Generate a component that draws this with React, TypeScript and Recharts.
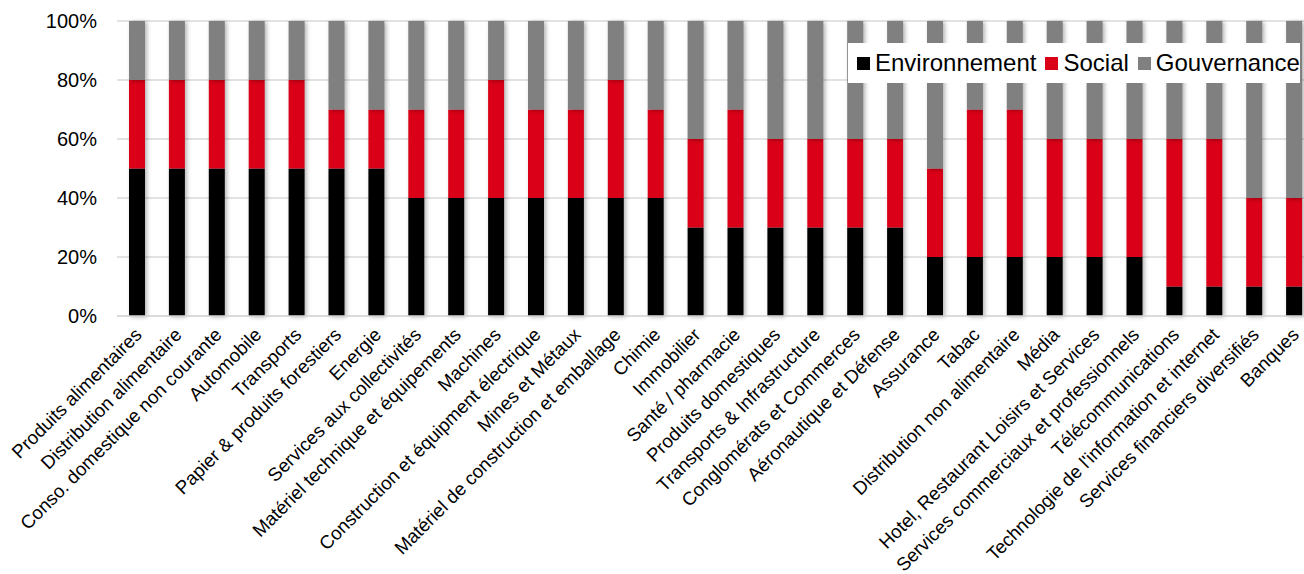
import { BarChart, Bar, XAxis, YAxis, CartesianGrid } from "recharts";

const sectors = [
  "Produits alimentaires",
  "Distribution alimentaire",
  "Conso. domestique non courante",
  "Automobile",
  "Transports",
  "Papier & produits forestiers",
  "Energie",
  "Services aux collectivités",
  "Matériel technique et équipements",
  "Machines",
  "Construction et équipment électrique",
  "Mines et Métaux",
  "Matériel de construction et emballage",
  "Chimie",
  "Immobilier",
  "Santé / pharmacie",
  "Produits domestiques",
  "Transports & Infrastructure",
  "Conglomérats et Commerces",
  "Aéronautique et Défense",
  "Assurance",
  "Tabac",
  "Distribution non alimentaire",
  "Média",
  "Hotel, Restaurant Loisirs et Services",
  "Services commerciaux et professionnels",
  "Télécommunications",
  "Technologie de l'information et internet",
  "Services financiers diversifiés",
  "Banques",
];

const environnement = [50, 50, 50, 50, 50, 50, 50, 40, 40, 40, 40, 40, 40, 40, 30, 30, 30, 30, 30, 30, 20, 20, 20, 20, 20, 20, 10, 10, 10, 10];
const social = [30, 30, 30, 30, 30, 20, 20, 30, 30, 40, 30, 30, 40, 30, 30, 40, 30, 30, 30, 30, 30, 50, 50, 40, 40, 40, 50, 50, 30, 30];
const gouvernance = [20, 20, 20, 20, 20, 30, 30, 30, 30, 20, 30, 30, 20, 30, 40, 30, 40, 40, 40, 40, 50, 30, 30, 40, 40, 40, 40, 40, 60, 60];

const yTicks = [0, 20, 40, 60, 80, 100];

const series = [
  { key: "env", name: "Environnement", color: "#000000" },
  { key: "soc", name: "Social", color: "#DA0018" },
  { key: "gov", name: "Gouvernance", color: "#808080" },
];

const data = sectors.map((name, i) => ({
  name,
  env: environnement[i],
  soc: social[i],
  gov: gouvernance[i],
}));

const FONT = "'Liberation Sans', Arial, sans-serif";

// rotated category labels, text ends just under the bar
const SectorTick = (props: any) => {
  const { x, y, payload } = props;
  const ax = x + 6;
  const ay = y + 12;
  return (
    <text
      x={ax}
      y={ay}
      transform={`rotate(-45, ${ax}, ${ay})`}
      textAnchor="end"
      fontSize={18.7}
      fontFamily={FONT}
      fill="#000"
    >
      {payload.value}
    </text>
  );
};

const LegendBox = () => (
  <div
    style={{
      position: "absolute",
      top: 43,
      left: 848,
      width: 452,
      height: 40,
      background: "#fff",
      display: "flex",
      alignItems: "center",
      paddingLeft: 9,
      boxSizing: "border-box",
      fontFamily: FONT,
      fontSize: 24,
      color: "#000",
      whiteSpace: "nowrap",
    }}
  >
    {series.map((s) => (
      <span key={s.key} style={{ display: "flex", alignItems: "center", marginRight: 9 }}>
        <span style={{ width: 13, height: 13, background: s.color, marginRight: 5 }} />
        {s.name}
      </span>
    ))}
  </div>
);

export default function App() {
  return (
    <div
      style={{
        position: "absolute",
        top: 0,
        left: 0,
        width: 1304,
        height: 574,
        overflow: "hidden",
        background: "#fff",
      }}
    >
      <style>{`.recharts-bar-rectangles { filter: drop-shadow(2px 1px 2px rgba(0,0,0,0.3)); }`}</style>
      <BarChart
        width={1320}
        height={574}
        data={data}
        margin={{ top: 21, right: 6, left: 0, bottom: 0 }}
        barSize={16}
      >
        <CartesianGrid vertical={false} stroke="#d9d9d9" strokeWidth={1.5} />
        <XAxis
          dataKey="name"
          interval={0}
          height={258}
          tick={<SectorTick />}
          tickLine={false}
          axisLine={{ stroke: "#d9d9d9", strokeWidth: 1.5 }}
        />
        <YAxis
          width={117}
          domain={[0, 100]}
          ticks={yTicks}
          tickFormatter={(v) => `${v}%`}
          tickLine={false}
          axisLine={false}
          tickSize={0}
          tickMargin={20}
          tick={{ fontSize: 20, fontFamily: FONT, fill: "#000" }}
        />
        {series.map((s) => (
          <Bar
            key={s.key}
            dataKey={s.key}
            name={s.name}
            stackId="esg"
            fill={s.color}
            isAnimationActive={false}
          />
        ))}
      </BarChart>
      <LegendBox />
    </div>
  );
}
